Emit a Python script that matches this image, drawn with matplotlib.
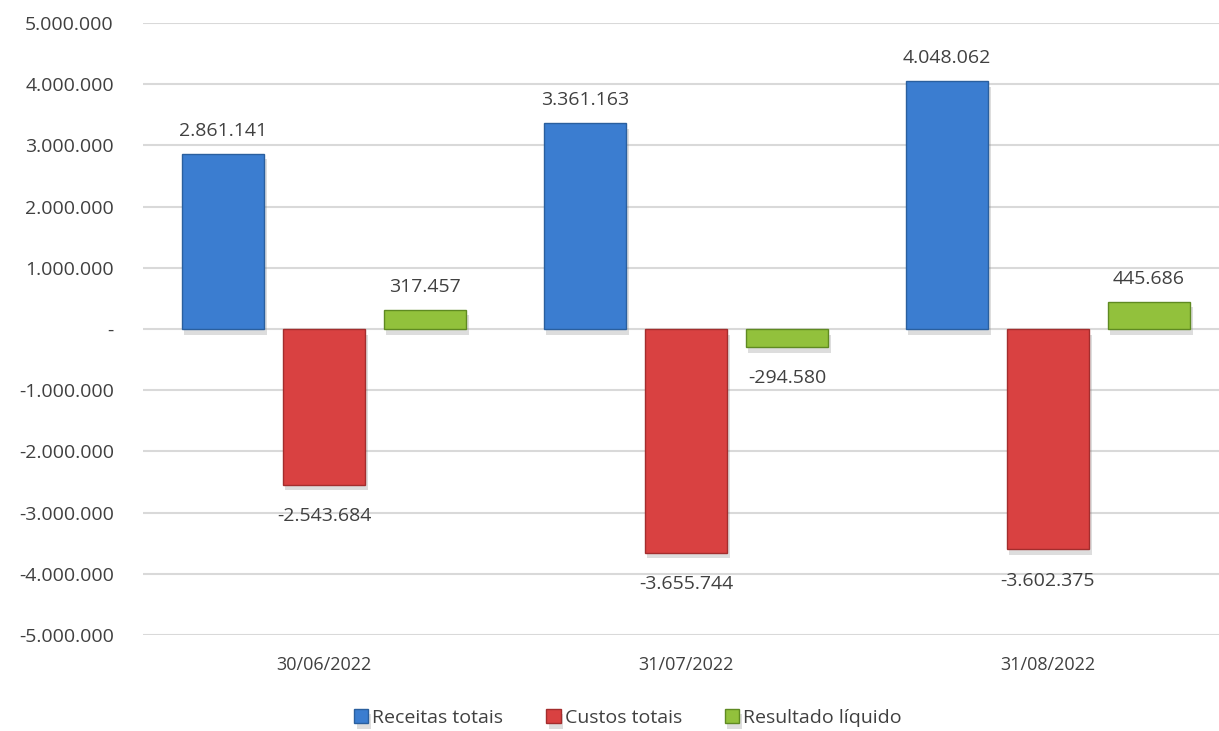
import numpy as np
import matplotlib.pyplot as plt
import matplotlib.patheffects as pe
from matplotlib.ticker import FuncFormatter

datas = ['30/06/2022', '31/07/2022', '31/08/2022']
receitas = [2861141, 3361163, 4048062]
custos = [-2543684, -3655744, -3602375]
resultado = [317457, -294580, 445686]

series = [
    ('Receitas totais', receitas, '#3b7dd0', '#2a5f9e'),
    ('Custos totais', custos, '#d94141', '#a32d2d'),
    ('Resultado líquido', resultado, '#92c13c', '#5f8a22'),
]


def fmt_br(v):
    if v == 0:
        return '-'
    s = '{:,.0f}'.format(abs(v)).replace(',', '.')
    return ('-' if v < 0 else '') + s


plt.rcParams['font.family'] = ['Open Sans', 'DejaVu Sans']
txt = '#404040'

fig = plt.figure(figsize=(12.19, 7.31), dpi=100)
ax = fig.add_axes([143 / 1219, 96 / 731, 1086 / 1219, 612 / 731])

x = np.arange(len(datas))
w = 0.229
step = 0.279
shadow = [pe.SimplePatchShadow(offset=(2, -4), shadow_rgbFace='#909090', alpha=0.3), pe.Normal()]

for i, (nome, vals, cor, borda) in enumerate(series):
    pos = x + (i - 1) * step
    bars = ax.bar(pos, vals, w, color=cor, edgecolor=borda, linewidth=1.0, label=nome, zorder=3)
    for b in bars:
        b.set_path_effects(shadow)
    for p, v in zip(pos, vals):
        if v >= 0:
            ax.annotate(fmt_br(v), (p, v), xytext=(0, 10), textcoords='offset points',
                        ha='center', va='bottom', fontsize=14, color=txt)
        else:
            ax.annotate(fmt_br(v), (p, v), xytext=(0, -16), textcoords='offset points',
                        ha='center', va='top', fontsize=14, color=txt)

ax.set_xlim(-0.5, 2.5)
ax.set_ylim(-5000000, 5000000)
ax.set_yticks(np.arange(-5000000, 5000001, 1000000))
ax.yaxis.set_major_formatter(FuncFormatter(lambda v, p: fmt_br(v)))
ax.set_xticks(x)
ax.set_xticklabels(datas)
ax.tick_params(axis='both', length=0, labelcolor=txt)
ax.tick_params(axis='y', pad=21, labelsize=14)
ax.tick_params(axis='x', pad=15, labelsize=13)
ax.grid(axis='y', color='#d9d9d9', linewidth=1.5, zorder=0)
for s in ax.spines.values():
    s.set_visible(False)

leg = fig.legend(loc='lower center', bbox_to_anchor=(0.515, -0.018), ncol=3, frameon=False,
                 fontsize=14, handlelength=0.75, handleheight=0.75, handletextpad=0.2,
                 columnspacing=2.2, labelcolor=txt)

fig.savefig('out.png', dpi=100)
